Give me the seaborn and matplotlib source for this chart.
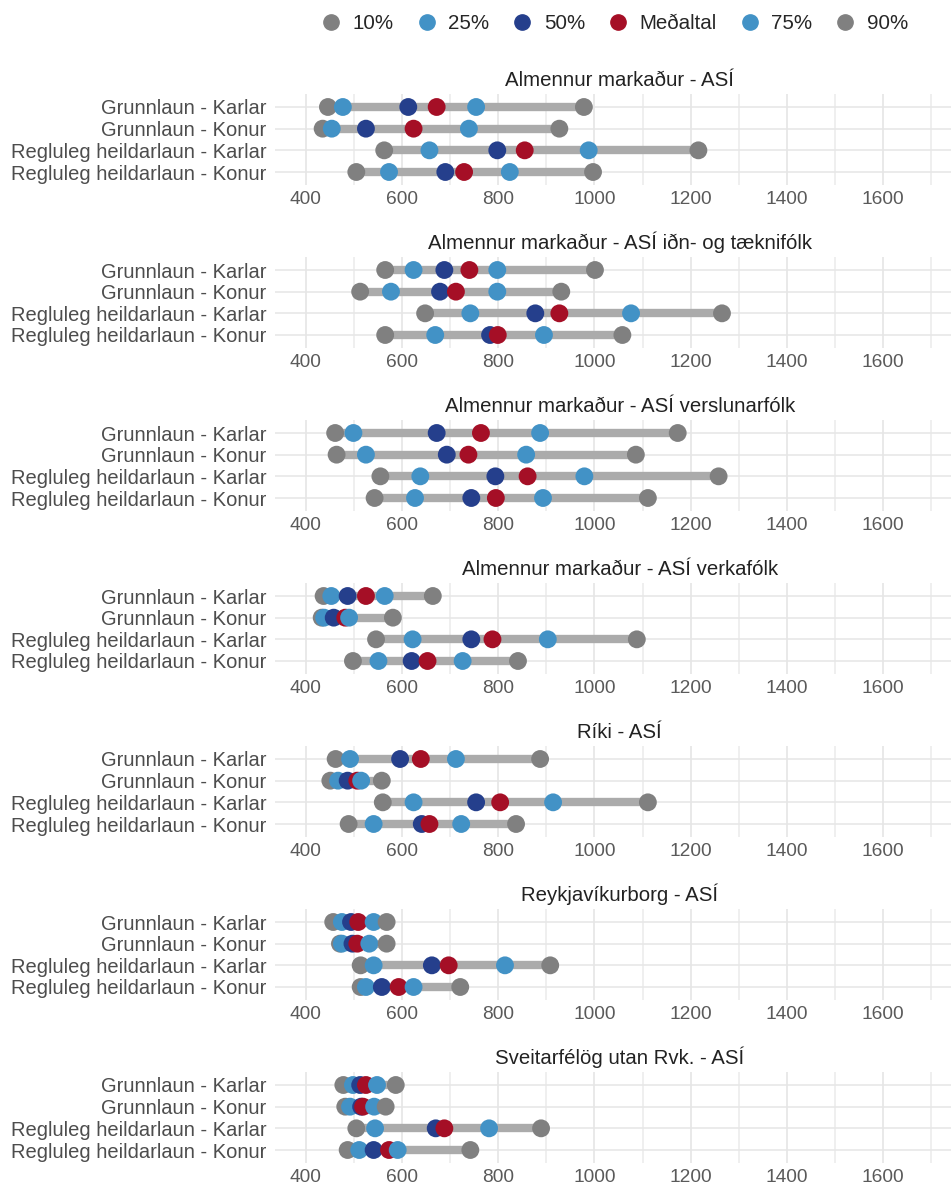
import numpy as np
import pandas as pd
import seaborn as sns
import matplotlib.pyplot as plt
from matplotlib.lines import Line2D

panels = [
    "Almennur markaður - ASÍ",
    "Almennur markaður - ASÍ iðn- og tæknifólk",
    "Almennur markaður - ASÍ verslunarfólk",
    "Almennur markaður - ASÍ verkafólk",
    "Ríki - ASÍ",
    "Reykjavíkurborg - ASÍ",
    "Sveitarfélög utan Rvk. - ASÍ",
]
rows = [
    "Grunnlaun - Karlar",
    "Grunnlaun - Konur",
    "Regluleg heildarlaun - Karlar",
    "Regluleg heildarlaun - Konur",
]
stats = ["10%", "25%", "50%", "Meðaltal", "75%", "90%"]

# one list per panel, rows in the order above
p10 = [
    [446, 435, 563, 505],
    [565, 513, 648, 565],
    [461, 464, 555, 543],
    [437, 433, 546, 498],
    [462, 451, 560, 489],
    [457, 471, 514, 514],
    [478, 482, 505, 487],
]
p25 = [
    [477, 454, 657, 573],
    [624, 577, 742, 669],
    [499, 525, 638, 627],
    [453, 438, 622, 551],
    [492, 467, 624, 541],
    [475, 475, 541, 525],
    [498, 492, 544, 511],
]
p50 = [
    [613, 525, 798, 690],
    [688, 679, 877, 783],
    [672, 693, 794, 744],
    [487, 458, 744, 620],
    [596, 487, 754, 641],
    [494, 497, 662, 558],
    [513, 515, 670, 541],
]
mean = [
    [672, 624, 855, 729],
    [740, 712, 927, 799],
    [764, 738, 861, 795],
    [525, 482, 788, 653],
    [639, 507, 804, 657],
    [509, 507, 697, 593],
    [525, 519, 688, 573],
]
p75 = [
    [754, 739, 988, 824],
    [798, 798, 1076, 895],
    [887, 858, 979, 893],
    [564, 490, 903, 726],
    [712, 515, 914, 723],
    [541, 532, 814, 624],
    [548, 542, 781, 591],
]
p90 = [
    [978, 927, 1216, 997],
    [1001, 931, 1265, 1058],
    [1173, 1086, 1258, 1111],
    [664, 581, 1088, 841],
    [887, 558, 1111, 837],
    [568, 568, 908, 721],
    [587, 566, 889, 742],
]

series = [p10, p25, p50, mean, p75, p90]
colors = ["#808080", "#4292C6", "#253F8C", "#A50F26", "#4292C6", "#808080"]
palette = dict(zip(stats, colors))

records = []
for pi, panel in enumerate(panels):
    for ri, row in enumerate(rows):
        for si, st in enumerate(stats):
            records.append({"panel": panel, "row": row, "ypos": ri,
                            "stat": st, "value": series[si][pi][ri]})
df = pd.DataFrame(records)

sns.set_theme(style="white")
plt.rcParams["font.family"] = ["Liberation Sans", "DejaVu Sans"]

W, H = 951, 1188
fig = plt.figure(figsize=(W / 100, H / 100), dpi=100)

ax_left = 275 / W
ax_w = (W - 275) / W
ax_h = 91 / H
pitch = 163

for pi, panel in enumerate(panels):
    top = 94 + pitch * pi
    ax = fig.add_axes([ax_left, 1 - (top + 91) / H, ax_w, ax_h])
    sub = df[df["panel"] == panel]

    ax.set_xticks(np.arange(400, 1601, 200))
    ax.set_xticks(np.arange(500, 1701, 200), minor=True)
    ax.grid(True, which="major", axis="x", color="#E3E3E3", lw=1.1, zorder=0)
    ax.grid(True, which="minor", axis="x", color="#EBEBEB", lw=1.1, zorder=0)
    ax.grid(True, which="major", axis="y", color="#E6E6E6", lw=1.1, zorder=0)

    lo = sub[sub["stat"] == "10%"].sort_values("ypos")
    hi = sub[sub["stat"] == "90%"].sort_values("ypos")
    ax.hlines(lo["ypos"], lo["value"].values, hi["value"].values,
              color="#ABABAB", lw=6, zorder=2)

    for st in stats:
        s = sub[sub["stat"] == st]
        sns.scatterplot(data=s, x="value", y="ypos", color=palette[st],
                        s=165, edgecolor="none", linewidth=0, ax=ax,
                        legend=False, zorder=3)

    ax.set_xlim(336, 1741)
    ax.set_ylim(3.6, -0.6)
    ax.set_yticks(range(len(rows)))
    ax.set_yticklabels(rows, fontsize=14.5, color="#4D4D4D")
    ax.tick_params(axis="x", labelsize=13.8, labelcolor="#5A5A5A", pad=4,
                   length=0, which="both")
    ax.tick_params(axis="y", length=0, pad=6)
    ax.set_xlabel("")
    ax.set_ylabel("")
    for sp in ax.spines.values():
        sp.set_visible(False)
    ax.set_title(panel, fontsize=14.7, color="#222222", pad=6, x=0.51)

handles = [Line2D([0], [0], marker="o", ls="", color=c, markersize=11)
           for c in colors]
fig.legend(handles, stats, loc="upper center", bbox_to_anchor=(0.645, 1.004),
           ncol=6, frameon=False, fontsize=14.8, handletextpad=0.45,
           columnspacing=1.0, handlelength=1.2)

fig.savefig("out.png", dpi=100)
